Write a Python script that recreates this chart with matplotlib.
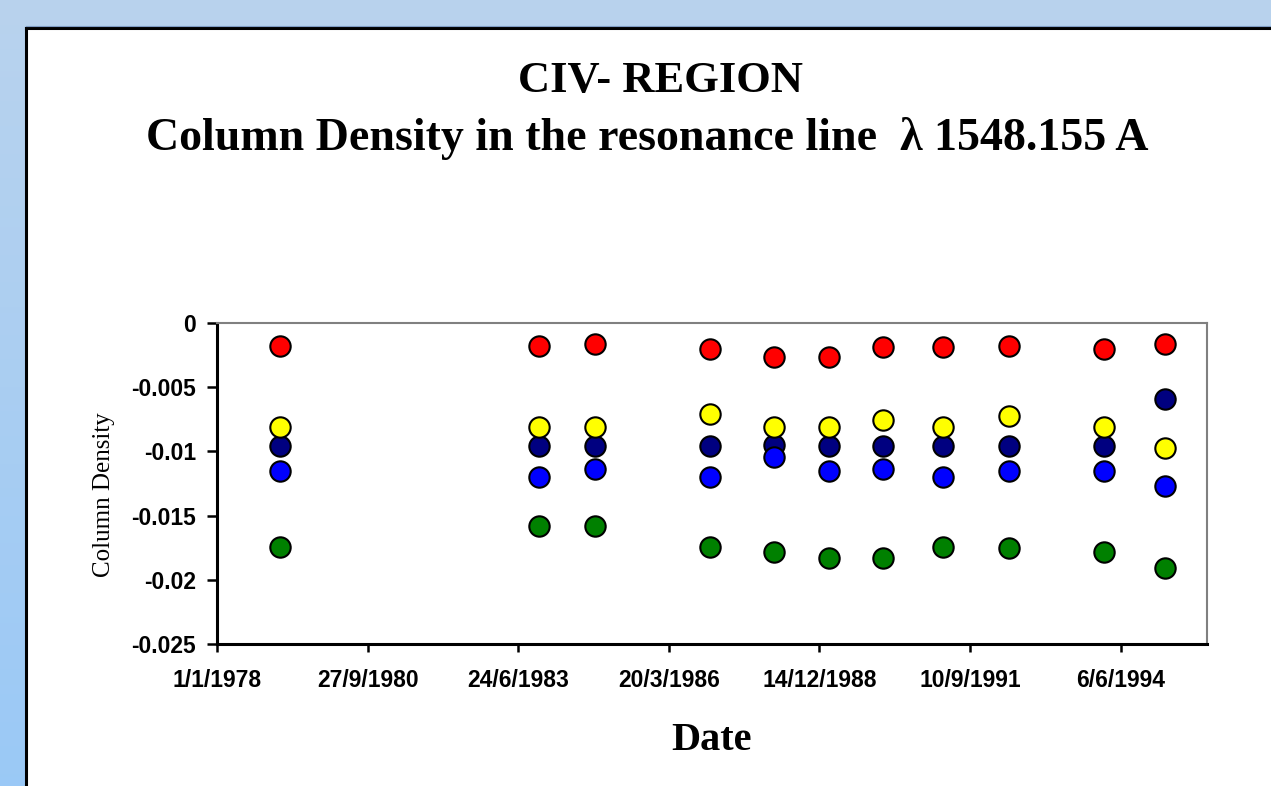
import numpy as np
import pandas as pd
import matplotlib
matplotlib.use("Agg")
import matplotlib.pyplot as plt
from matplotlib.patches import Rectangle
from matplotlib.lines import Line2D

dates = ["1979-02-24", "1983-11-11", "1984-11-16", "1986-12-21", "1988-02-19",
         "1989-02-18", "1990-02-12", "1991-03-18", "1992-05-23", "1994-02-13",
         "1995-03-25"]

red_vals = [-0.0018, -0.0018, -0.00164, -0.0020, -0.00267, -0.00262,
            -0.00184, -0.00184, -0.0018, -0.0020, -0.00164]
navy_vals = [-0.0096, -0.0096, -0.0096, -0.0096, -0.0095, -0.0096,
             -0.0096, -0.0096, -0.0096, -0.0096, -0.0059]
yellow_vals = [-0.0081, -0.0081, -0.0081, -0.0071, -0.0081, -0.0081,
               -0.00755, -0.0081, -0.00724, -0.0081, -0.0097]
blue_vals = [-0.01155, -0.0120, -0.01137, -0.0120, -0.0104, -0.01155,
             -0.01137, -0.0120, -0.01155, -0.01155, -0.0127]
green_vals = [-0.01745, -0.0158, -0.0158, -0.01747, -0.0178, -0.0183,
              -0.0183, -0.01747, -0.0175, -0.0178, -0.0191]

series = [(red_vals, "#FF0000"), (navy_vals, "#000080"), (yellow_vals, "#FFFF00"),
          (blue_vals, "#0000FF"), (green_vals, "#008000")]

x_start = pd.Timestamp("1978-01-01")
x_end = pd.Timestamp("1996-01-01")
tick_step_days = 1000

W, H = 1271, 786
fig = plt.figure(figsize=(W / 100, H / 100), dpi=100)

# blue gradient background
bg = fig.add_axes([0, 0, 1, 1], zorder=-10)
top = np.array([0.725, 0.827, 0.932])
bottom = np.array([0.606, 0.788, 0.965])
t = np.linspace(0, 1, 256)[:, None]
grad = (top * (1 - t) + bottom * t)[:, None, :]
bg.imshow(grad, aspect="auto", extent=[0, 1, 0, 1])
bg.set_xlim(0, 1)
bg.set_ylim(0, 1)
bg.axis("off")

# white panel with black border on left / top
px0, py0 = 26 / W, 1 - 28 / H
fig.add_artist(Rectangle((px0, 0), 1.2, py0, transform=fig.transFigure,
                         facecolor="white", edgecolor="none", zorder=-5))
fig.add_artist(Line2D([px0, px0], [0, py0], transform=fig.transFigure,
                      color="black", lw=2.2, zorder=-4))
fig.add_artist(Line2D([px0, 1.01], [py0, py0], transform=fig.transFigure,
                      color="black", lw=2.2, zorder=-4))
fig.add_artist(Line2D([px0, 1.01], [py0 + 1.6 / H, py0 + 1.6 / H], transform=fig.transFigure,
                      color="#7F9CC4", lw=0.8, zorder=-4))

ax = fig.add_axes([217 / W, (H - 644) / H, (1207 - 217) / W, (644 - 323) / H])

xd = pd.to_datetime(dates)
for vals, col in series:
    ax.scatter(xd, vals, s=215, c=col, edgecolors="black", linewidths=1.5,
               zorder=3, clip_on=False)

ax.set_xlim(x_start, x_end)
ax.set_ylim(-0.025, 0)

ticks = [x_start + pd.Timedelta(days=tick_step_days * k) for k in range(7)]
ax.set_xticks(ticks)
ax.set_xticklabels([f"{d.day}/{d.month}/{d.year}" for d in ticks])
yt = np.arange(0, -0.0251, -0.005)
ax.set_yticks(yt)
ax.set_yticklabels(["%g" % round(v, 4) for v in yt])

for lab in ax.get_xticklabels() + ax.get_yticklabels():
    lab.set_fontfamily("Liberation Sans")
    lab.set_fontweight("bold")
    lab.set_fontsize(16.5)

ax.tick_params(axis="x", direction="out", length=6, width=1.8, pad=12)
ax.tick_params(axis="y", direction="out", length=7, width=1.8, pad=8)

for side in ["left", "bottom"]:
    ax.spines[side].set_color("black")
    ax.spines[side].set_linewidth(2.2)
for side in ["top", "right"]:
    ax.spines[side].set_color("#808080")
    ax.spines[side].set_linewidth(1.5)

serif = ["Liberation Serif", "DejaVu Serif"]
fig.text(660 / W, 1 - 81 / H, "CIV- REGION", ha="center", va="center",
         fontsize=32, fontweight="bold", family=serif)
fig.text(647 / W, 1 - 138 / H, "Column Density in the resonance line  \u03bb 1548.155 A",
         ha="center", va="center", fontsize=33, fontweight="bold", family=serif)
fig.text(712 / W, 1 - 740 / H, "Date", ha="center", va="center",
         fontsize=29, fontweight="bold", family=serif)
fig.text(104 / W, 1 - 495 / H, "Column Density", ha="center", va="center",
         rotation=90, fontsize=18, family=serif)

fig.savefig("out.png", dpi=100)
